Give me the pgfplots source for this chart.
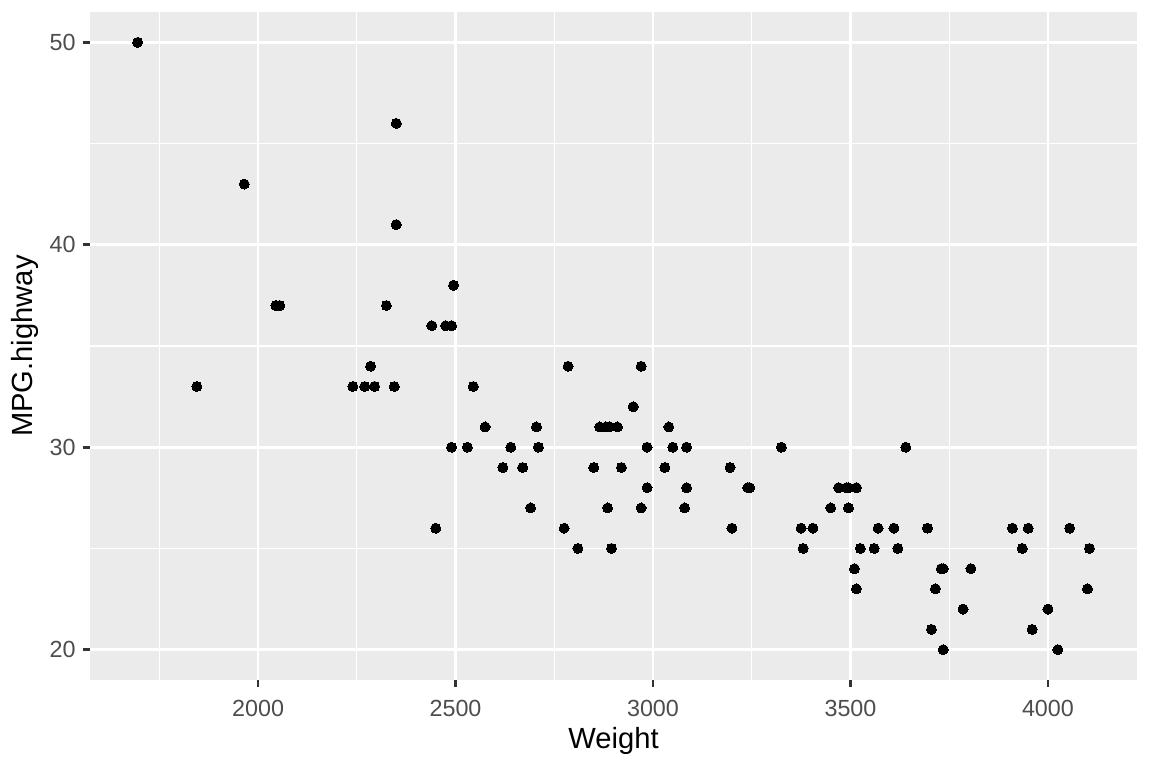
\documentclass[border=0pt]{standalone}
\usepackage{pgfplots}
\pgfplotsset{compat=1.18}
\usepackage{fontspec}
\setmainfont{Liberation Sans}
\definecolor{panelbg}{HTML}{EBEBEB}
\definecolor{ticklab}{HTML}{4D4D4D}
\definecolor{tickcol}{HTML}{333333}
\begin{document}
\begin{tikzpicture}
\path[use as bounding box] (-43.2pt,-42.24pt) rectangle (509.76pt,326.4pt);
\begin{axis}[
  scale only axis,
  anchor=south west,
  at={(0pt,0pt)},
  width=502.56pt, height=320.64pt,
  xmin=1574.5, xmax=4225.5,
  ymin=18.5, ymax=51.5,
  axis background/.style={fill=panelbg},
  axis line style={draw=none},
  xtick={2000,2500,3000,3500,4000},
  ytick={20,30,40,50},
  minor xtick={1750,2250,2750,3250,3750,4250},
  minor ytick={25,35,45},
  grid=both,
  major grid style={white, line width=1.3pt},
  minor grid style={white, line width=0.65pt},
  tick align=outside,
  major tick length=3.4pt,
  minor tick length=0pt,
  tick style={tickcol, line width=1.3pt},
  xtick pos=bottom, ytick pos=left,
  /pgf/number format/assume math mode=true,
  /pgf/number format/1000 sep={},
  ticklabel style={font=\fontsize{11.2}{13}\selectfont, text=ticklab},
  xticklabel style={yshift=-2.8pt},
  yticklabel style={xshift=0pt},
  xlabel={Weight}, ylabel={MPG.highway},
  label style={font=\fontsize{14}{16}\selectfont},
  xlabel style={yshift=2pt},
  ylabel style={yshift=-1.5pt},
  clip=false,
]
\addplot[only marks, mark=*, mark size=2.4pt, mark options={fill=black, draw=black, line width=0pt}] table {
x y
2705 31
3560 25
3375 26
3405 26
3640 30
2880 31
3470 28
4105 25
3495 27
3620 25
3935 25
2490 36
2785 34
3240 28
3195 29
3715 23
4025 20
3910 26
3380 25
3515 28
3085 28
3570 26
2270 33
2670 29
2970 27
3705 21
3080 27
3805 24
2295 33
3490 28
1845 33
2530 30
2690 27
2850 29
2710 30
3735 20
3325 30
3950 26
1695 50
2475 36
2865 31
2350 46
3040 31
2345 33
2620 29
2285 34
2885 27
4000 22
3510 24
3515 23
3695 26
4055 26
2325 37
2440 36
2970 34
3735 24
2895 25
2920 29
3525 25
2450 26
3610 26
2295 33
3730 24
2545 33
3050 30
4100 23
3200 26
2910 31
2890 31
3715 23
3470 28
2640 30
2350 41
2575 31
3240 28
3450 27
3495 28
2775 26
2495 38
2045 37
2490 30
3085 30
1965 43
2055 37
2950 32
3030 29
3785 22
2240 33
3960 21
2985 30
2810 25
2985 28
3245 28
};
\end{axis}
\end{tikzpicture}
\end{document}
